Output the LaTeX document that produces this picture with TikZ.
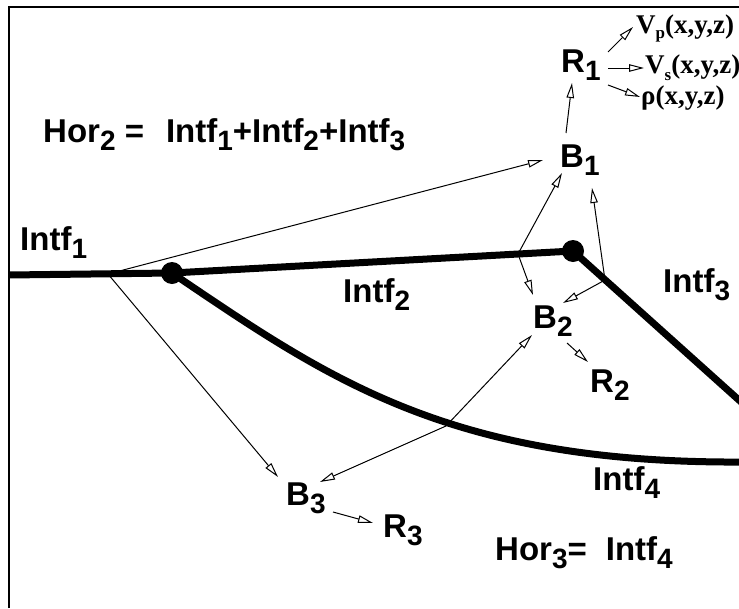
\documentclass[tikz,border=0pt]{standalone}
\usepackage{fontspec}
\setmainfont{Liberation Sans}
\newfontfamily\tnr{Liberation Serif}
\usetikzlibrary{arrows.meta}
\newcommand{\ssub}[1]{\raisebox{-8pt}{\fontsize{28}{28}\selectfont #1}}
\newcommand{\tsub}[2][6pt]{\raisebox{-#1}{\fontsize{17}{17}\selectfont #2}}
\begin{document}
\begin{tikzpicture}[x=1pt,y=-1pt,
  lab/.style={inner sep=0pt, anchor=base west, font=\fontsize{33}{36}\selectfont\bfseries},
  prop/.style={inner sep=0pt, anchor=base west, font=\fontsize{27}{28}\selectfont\tnr\bfseries},
  intf/.style={line width=7pt, line join=round},
  arr/.style={line width=1pt, -{Triangle[open,length=15pt,width=7.5pt]}},
  dotnode/.style={circle, fill=black, inner sep=0pt, minimum size=22pt}]
\useasboundingbox (0,0) rectangle (739,608);
\fill[white] (0,0) rectangle (739,608);
\draw[line width=2pt] (9,608) -- (9,7) -- (739,7);

% interfaces
\coordinate (L0) at (9,275);
\coordinate (E3) at (750,410);
\coordinate (E4) at (745,462);
\node[dotnode] (D1) at (172,273) {};
\node[dotnode] (D2) at (573,251) {};
\begin{scope}
\clip (0,0) rectangle (739,608);
\draw[intf] (L0) -- (D1.center) -- (D2.center) -- (E3);
\draw[intf] (D1.center) .. controls (330,380) and (450,464) .. (E4);
\end{scope}

% source points on interfaces
\coordinate (P1) at (108,274);
\coordinate (P2) at (518,254);
\coordinate (P3) at (605,280);
\coordinate (P4) at (446,426);

% labels
\node[lab] (I1) at (20,250) {Intf\ssub{1}};
\node[lab] (H2) at (43,142) {Hor\ssub{2} =\hspace{22pt}Intf\ssub{1}+Intf\ssub{2}+Intf\ssub{3}};
\node[lab] (I2) at (343,302) {Intf\ssub{2}};
\node[lab] (I3) at (663,292) {Intf\ssub{3}};
\node[lab] (I4) at (593,490) {Intf\ssub{4}};
\node[lab] (H3) at (495,560) {Hor\ssub{3}=\hspace{19pt}Intf\ssub{4}};

\node[lab] (B1) at (560,167) {B\ssub{1}};
\node[lab] (R1) at (561,72) {R\ssub{1}};
\node[lab] (B2) at (533,328) {B\ssub{2}};
\node[lab] (R2) at (590,392) {R\ssub{2}};
\node[lab] (B3) at (286,505) {B\ssub{3}};
\node[lab] (R3) at (383,537) {R\ssub{3}};

\node[prop] (VP) at (636,33) {V\tsub[5pt]{p}(x,y,z)};
\node[prop] (VS) at (645,73) {V\tsub[7pt]{s}(x,y,z)};
\node[prop] (RHO) at (641,104) {ρ(x,y,z)};

% arrows
\draw[arr] (P1) -- ([shift={(-17,-7)}]B1.base west);
\draw[arr] (P1) -- ([shift={(-8,-28)}]B3.base west);
\draw[arr] (P2) -- ([shift={(2,6)}]B1.base west);
\draw[arr] (P2) -- ([shift={(0,-33)}]B2.base west);
\draw[arr] (P3) -- ([shift={(32,21)}]B1.base west);
\draw[arr] (P3) -- ([shift={(30,-25)}]B2.base west);
\draw[arr] (P4) -- ([shift={(-1,7)}]B2.base west);
\draw[arr] (P4) -- ([shift={(34,-23)}]B3.base west);
\draw[arr] ([shift={(6,-34)}]B1.base west) -- ([shift={(11,11)}]R1.base west);
\draw[arr] ([shift={(47,-20)}]R1.base west) -- ([shift={(-3,-6)}]VP.base west);
\draw[arr] ([shift={(47,-4)}]R1.base west) -- ([shift={(-1,-5)}]VS.base west);
\draw[arr] ([shift={(47,13)}]R1.base west) -- ([shift={(-1,-7)}]RHO.base west);
\draw[arr] ([shift={(34,15)}]B2.base west) -- ([shift={(-2,-30)}]R2.base west);
\draw[arr] ([shift={(47,7)}]B3.base west) -- ([shift={(-10,-14)}]R3.base west);
\end{tikzpicture}
\end{document}
